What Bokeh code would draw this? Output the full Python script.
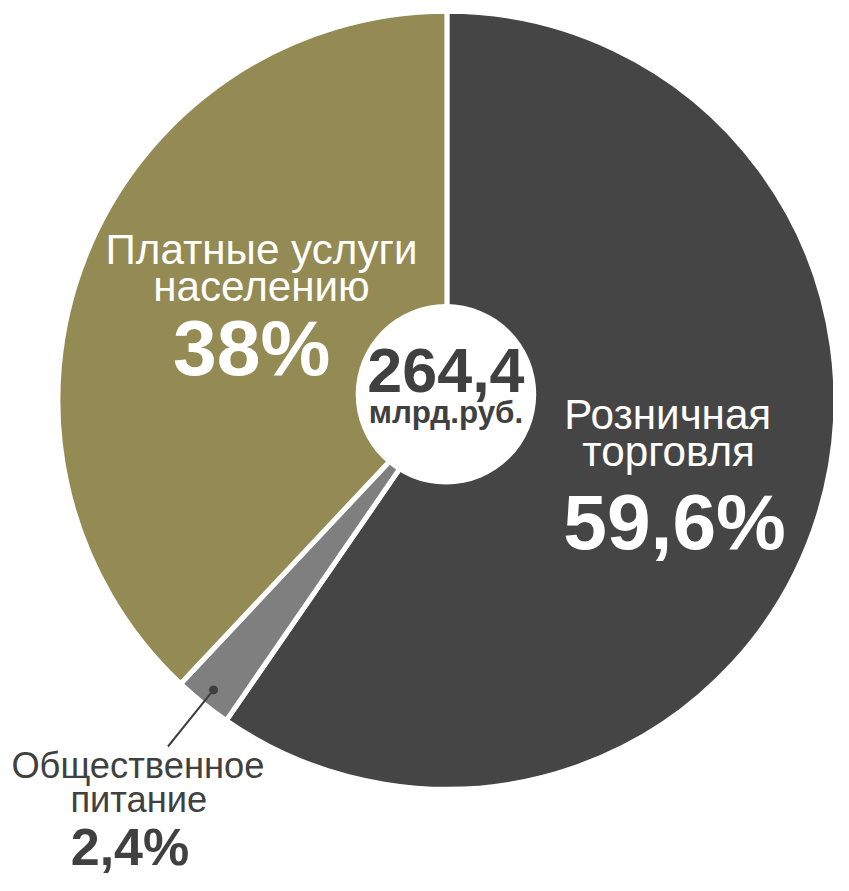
import math
from bokeh.plotting import figure
from bokeh.models import Range1d, ColumnDataSource
from bokeh.core.properties import value
from bokeh.embed import file_html
from bokeh.resources import INLINE

# ---- data ----
categories = ["Розничная торговля", "Общественное питание", "Платные услуги населению"]
shares = [59.6, 2.4, 38.0]
share_labels = ["59,6%", "2,4%", "38%"]
total_label = "264,4"
unit_label = "млрд.руб."
colors = ["#454545", "#7f7f7f", "#948a54"]

# ---- layout ----
W, H = 833, 875
SX = W / 849.0           # screen px per data unit
CX, CY, R = 455, -407, 394
SEP = 5
FONT = value("Liberation Sans")
DARK_TEXT = "#404040"

p = figure(width=W, height=H, x_range=Range1d(0, 849), y_range=Range1d(-891, 0),
           output_backend="svg", toolbar_location=None,
           x_axis_type=None, y_axis_type=None, min_border=0)
p.grid.visible = False
p.outline_line_color = None
p.background_fill_color = "white"

# cumulative angles, clockwise from 12 o'clock
starts, ends = [], []
acc = 0.0
for s in shares:
    a0 = math.pi / 2 - 2 * math.pi * acc / 100.0
    acc += s
    a1 = math.pi / 2 - 2 * math.pi * acc / 100.0
    starts.append(a0)
    ends.append(a1)

src = ColumnDataSource(dict(x=[CX] * 3, y=[CY] * 3, start=starts, end=ends, color=colors, cat=categories))
p.wedge(x="x", y="y", radius=R + SEP / 2, start_angle="start", end_angle="end", direction="clock",
        fill_color="color", line_color="white", line_width=SEP, source=src)

# centre circle
p.circle(x=[454], y=[-401], radius=92, fill_color="white", line_color=None)

# leader for small slice
mid = (starts[1] + ends[1]) / 2
dx, dy = math.cos(mid), math.sin(mid)
p.segment(x0=[CX + 379 * dx], y0=[CY + 379 * dy], x1=[CX + 453 * dx], y1=[CY + 453 * dy],
          line_color=DARK_TEXT, line_width=2)
p.scatter(x=[CX + 379 * dx], y=[CY + 379 * dy], size=9, fill_color=DARK_TEXT, line_color=None)

def txt(x, baseline, s, size, color, bold=False):
    fs = size * SX
    y = -baseline + 0.39 * size   # compensate renderer baseline offset
    p.text(x=[x], y=[y], text=[s], text_font=FONT, text_font_size=f"{fs:.1f}px",
           text_font_style="bold" if bold else "normal", text_color=color,
           text_align="center", text_baseline="alphabetic")

# labels
txt(266, 270, "Платные услуги", 43, "white")
txt(266, 308, "населению", 43, "white")
txt(256, 385, share_labels[2], 80, "white", True)

txt(680, 438, "Розничная", 43, "white")
txt(681, 476, "торговля", 43, "white")
txt(687, 562, share_labels[0], 80, "white", True)

txt(140, 793, "Общественное", 37, DARK_TEXT)
txt(141, 828, "питание", 37, DARK_TEXT)
txt(132, 883, share_labels[1], 53, DARK_TEXT, True)

txt(454, 402, total_label, 64, DARK_TEXT, True)
txt(454, 432, unit_label, 32, DARK_TEXT, True)

open("out.html", "w").write(file_html(p, INLINE))
